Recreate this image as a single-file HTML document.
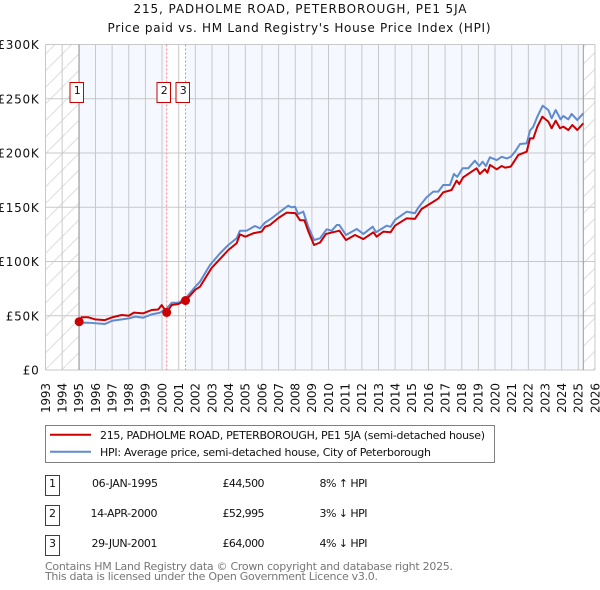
<!DOCTYPE html>
<html>
<head>
<meta charset="utf-8">
<style>
html,body{margin:0;padding:0;background:#fff;width:600px;height:590px;overflow:hidden}
svg{display:block}
text{font-family:"DejaVu Sans","Liberation Sans",sans-serif;fill:#111}
</style>
</head>
<body>
<svg id="chart" width="600" height="590" viewBox="0 0 600 590" xmlns="http://www.w3.org/2000/svg">
<defs>
<pattern id="hatch" patternUnits="userSpaceOnUse" width="16.6" height="16.6">
<line x1="0" y1="16.6" x2="16.6" y2="0" stroke="#dcdcdc" stroke-width="1"/>
</pattern>
</defs>
<text x="300" y="13" text-anchor="middle" font-size="12" textLength="333">215, PADHOLME ROAD, PETERBOROUGH, PE1 5JA</text>
<text x="299" y="32" text-anchor="middle" font-size="12" textLength="383">Price paid vs. HM Land Registry's House Price Index (HPI)</text>
<g id="plot"></g>
<g>
<rect x="45.5" y="425.5" width="449" height="37" fill="#fff" stroke="#808080" stroke-width="1"/>
<line x1="50" y1="434.8" x2="91" y2="434.8" stroke="#cc0000" stroke-width="2"/>
<line x1="50" y1="451.8" x2="91" y2="451.8" stroke="#5f8bd0" stroke-width="2"/>
<text x="100" y="439" font-size="11" textLength="385">215, PADHOLME ROAD, PETERBOROUGH, PE1 5JA (semi-detached house)</text>
<text x="100" y="456" font-size="11" textLength="331">HPI: Average price, semi-detached house, City of Peterborough</text>
</g>
<g>
<rect x="45.5" y="475.5" width="14" height="20" fill="#fff" stroke="#cc0000" stroke-width="1"/>
<text x="52.5" y="487" text-anchor="middle" font-size="11">1</text>
<text x="125" y="487" text-anchor="middle" font-size="11" textLength="66">06-JAN-1995</text>
<text x="222.5" y="487" font-size="11" textLength="42">£44,500</text>
<text x="319.5" y="487" font-size="11" textLength="48">8% ↑ HPI</text>
<rect x="45.5" y="505.5" width="14" height="20" fill="#fff" stroke="#cc0000" stroke-width="1"/>
<text x="52.5" y="517" text-anchor="middle" font-size="11">2</text>
<text x="124" y="517" text-anchor="middle" font-size="11" textLength="67">14-APR-2000</text>
<text x="222.5" y="517" font-size="11" textLength="42">£52,995</text>
<text x="319.5" y="517" font-size="11" textLength="48">3% ↓ HPI</text>
<rect x="45.5" y="535.5" width="14" height="20" fill="#fff" stroke="#cc0000" stroke-width="1"/>
<text x="52.5" y="547" text-anchor="middle" font-size="11">3</text>
<text x="124.5" y="547" text-anchor="middle" font-size="11" textLength="66">29-JUN-2001</text>
<text x="222.5" y="547" font-size="11" textLength="42">£64,000</text>
<text x="319.5" y="547" font-size="11" textLength="48">4% ↓ HPI</text>
</g>
<text x="45" y="570" font-size="11" style="fill:#777" textLength="408">Contains HM Land Registry data © Crown copyright and database right 2025.</text>
<text x="45" y="580" font-size="11" style="fill:#777" textLength="333">This data is licensed under the Open Government Licence v3.0.</text>
</svg>
<script>
const yearTicks = [1993,1994,1995,1996,1997,1998,1999,2000,2001,2002,2003,2004,2005,2006,2007,2008,2009,2010,2011,2012,2013,2014,2015,2016,2017,2018,2019,2020,2021,2022,2023,2024,2025,2026];
const valueTicks = [0,50,100,150,200,250,300];
const valueTickLabels = ["£0","£50K","£100K","£150K","£200K","£250K","£300K"];
const dataStart = 1995.02;
const dataEnd = 2025.3;
const saleYears = [1995.02,2000.28,2001.41];
const saleValues = [44.5,52.995,64];
const saleNumbers = ["1","2","3"];
const priceYears = [1995.02,1995.17,1995.57,1995.97,1996.57,1997.01,1997.58,1998.0,1998.31,1998.87,1999.38,1999.77,1999.98,2000.28,2000.58,2000.98,2001.41,2002.0,2002.28,2002.96,2003.98,2004.48,2004.68,2005.0,2005.48,2005.98,2006.18,2006.48,2006.98,2007.48,2008.0,2008.29,2008.55,2008.79,2009.13,2009.49,2009.85,2010.65,2011.05,2011.59,2012.09,2012.69,2012.89,2013.29,2013.73,2013.99,2014.69,2015.19,2015.59,2016.29,2016.59,2016.89,2017.39,2017.69,2017.85,2018.09,2018.89,2019.09,2019.39,2019.54,2019.7,2020.1,2020.4,2020.6,2020.94,2021.4,2021.9,2022.1,2022.3,2022.54,2022.84,2023.2,2023.4,2023.64,2023.9,2024.1,2024.4,2024.64,2024.94,2025.3];
const priceValues = [44.5,48.6,48.6,46.7,46,48.6,50.7,50,52.9,52.2,55.3,55.8,59.9,53,59.9,60.8,64,74,76.8,93.7,110.6,116.8,125,122.9,126,127.5,132,133.6,140,145,144.6,138,138,127.5,115.2,117.5,125.4,128.4,119.8,124.4,120.7,126.9,122.9,127.5,127,133,139.8,139.3,148.4,155.1,158,163.8,165.9,174.5,171.4,177.6,185.9,180.7,185,181.9,189,185,188,186.5,187.4,198.2,201.2,213.5,213.5,224.3,233.5,228.9,222.8,229.8,222.8,224.3,221.2,225.8,221.2,227.4];
const hpiYears = [1995.07,1995.57,1996.57,1997.01,1997.58,1998.0,1998.4,1998.87,1999.38,1999.87,2000.28,2000.58,2000.98,2001.41,2002.0,2002.28,2002.88,2003.48,2003.98,2004.48,2004.68,2005.08,2005.58,2005.88,2006.18,2006.58,2006.92,2007.28,2007.58,2007.78,2007.98,2008.18,2008.48,2008.78,2009.13,2009.49,2009.89,2010.19,2010.49,2010.65,2011.05,2011.69,2012.09,2012.65,2012.85,2013.49,2013.73,2013.99,2014.69,2015.19,2015.39,2015.89,2016.29,2016.59,2016.89,2017.29,2017.53,2017.73,2018.05,2018.39,2018.79,2019.05,2019.25,2019.45,2019.69,2020.1,2020.4,2020.7,2020.94,2021.2,2021.5,2021.9,2022.1,2022.3,2022.54,2022.86,2023.2,2023.4,2023.64,2023.94,2024.1,2024.4,2024.6,2024.94,2025.3];
const hpiValues = [43.5,43.6,42.4,45.4,46.7,47.6,49.2,48.2,51.3,52.8,56.8,62,62,66,76.8,81.4,96.8,107.5,115.2,121.4,128.4,128.4,132.7,130.6,135.8,139.8,143.8,148.1,151.5,149.9,150.5,143.8,146,132.1,119.8,121.4,129.7,128.4,133.6,133.6,124.4,130,125.4,132.1,127,133,132,138.3,145.9,144.5,149.6,159.2,164.4,164.4,170.5,170.5,180.7,178,185.9,185.9,192.9,188,192,188,196,193.5,196.5,195,196.5,201.2,208.3,208.9,220.6,224.3,233.5,243.6,239.6,232,239.6,231,234.1,231,236,230.4,236.6];

const NS = 'http://www.w3.org/2000/svg';
const plot = document.getElementById('plot');
const xLeft = 45.5, xPerYear = 16.65, yBase = 370, yPerK = 54.25 / 50;
function xScale(year) { return xLeft + (year - 1993) * xPerYear; }
function yScale(value) { return yBase - value * yPerK; }
function make(tag, attrs) {
  const el = document.createElementNS(NS, tag);
  for (const k in attrs) el.setAttribute(k, attrs[k]);
  plot.appendChild(el);
  return el;
}
const xMin = xScale(yearTicks[0]), xMax = xScale(yearTicks[yearTicks.length - 1]);
const yTop = yScale(valueTicks[valueTicks.length - 1]);

const hatchArea = make('rect', {x: xMin, y: yTop, width: xMax - xMin, height: yBase - yTop, fill: 'url(#hatch)'});



const band = make('rect', {x: xScale(dataStart), y: yTop, width: xScale(dataEnd) - xScale(dataStart), height: yBase - yTop, fill: '#f5f8ff'});



const whiteBand = make('rect', {x: xScale(saleYears[1]), y: yTop, width: xScale(saleYears[2]) - xScale(saleYears[1]), height: yBase - yTop, fill: '#ffffff'});



yearTicks.forEach(function (yr) {
  const g = make('line', {x1: xScale(yr), x2: xScale(yr), y1: yTop, y2: yBase, stroke: '#c8c8c8', 'stroke-width': 1});
  
  
  const tx = xScale(yr) + 4.3;
  const t = make('text', {x: tx, y: 413, 'font-size': 12, textLength: 30, transform: 'rotate(-90 ' + tx + ' 413)'});
  t.textContent = yr;
  
  
});
valueTicks.forEach(function (v, i) {
  const g = make('line', {x1: xMin, x2: xMax, y1: yScale(v), y2: yScale(v), stroke: '#c8c8c8', 'stroke-width': 1});
  
  
  const t = make('text', {x: 39.5, y: yScale(v) + 4.5, 'font-size': 12, 'text-anchor': 'end', 'letter-spacing': 0.75});
  t.textContent = valueTickLabels[i];
  
  
});

[dataStart, dataEnd].forEach(function (yr) {
  const b = make('line', {x1: xScale(yr), x2: xScale(yr), y1: yTop, y2: yBase, stroke: '#999999', 'stroke-width': 1});
  
  
});
saleYears.slice(1).forEach(function (yr) {
  const d = make('line', {x1: xScale(yr), x2: xScale(yr), y1: yTop, y2: yBase, stroke: '#ff8080', 'stroke-width': 1, 'stroke-dasharray': '2 2'});
  
  
});

function pathFrom(xs, ys) {
  return xs.map(function (yr, i) { return (i ? 'L' : 'M') + xScale(yr).toFixed(2) + ' ' + yScale(ys[i]).toFixed(2); }).join('');
}
const hpiLine = make('path', {d: pathFrom(hpiYears, hpiValues), fill: 'none', stroke: '#5f8bd0', 'stroke-width': 2, 'stroke-linejoin': 'round'});


const priceLine = make('path', {d: pathFrom(priceYears, priceValues), fill: 'none', stroke: '#cc0000', 'stroke-width': 2, 'stroke-linejoin': 'round'});



saleYears.forEach(function (yr, i) {
  const c = make('circle', {cx: xScale(yr), cy: yScale(saleValues[i]), r: 4.5, fill: '#cc0000'});
  
  
  const bx = Math.round(xScale(yr) - 9.5);
  const r = make('rect', {x: bx, y: 82.5, width: 13.5, height: 20, fill: '#fff', stroke: '#cc0000', 'stroke-width': 1});
  
  
  const t = make('text', {x: bx + 7.2, y: 94, 'font-size': 11, 'text-anchor': 'middle'});
  t.textContent = saleNumbers[i];
  
  
});
</script>
</body>
</html>
